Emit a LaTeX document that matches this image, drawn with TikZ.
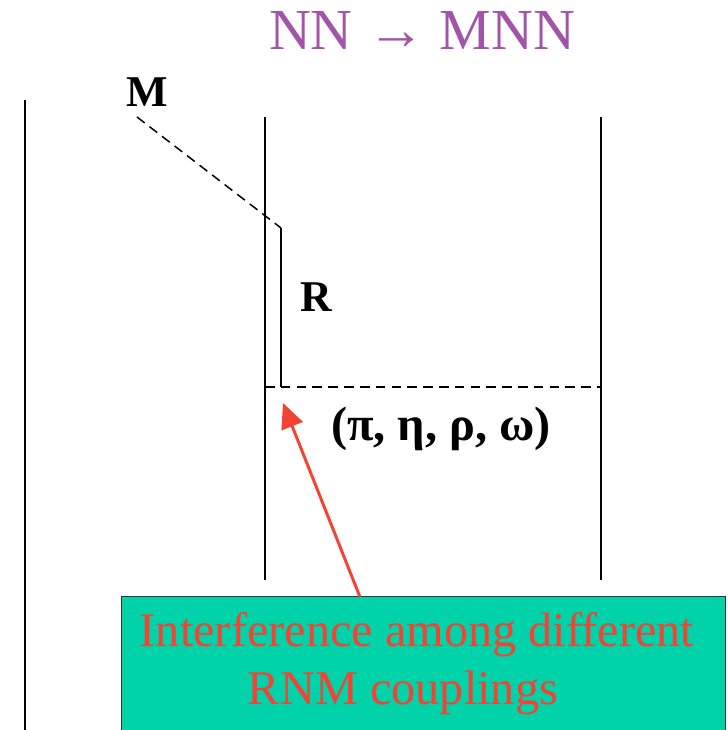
\documentclass[tikz,border=0pt]{standalone}
\usepackage{fontspec}
\setmainfont{Liberation Serif}
\usetikzlibrary{arrows.meta,positioning}
\definecolor{titlepurple}{RGB}{162,84,168}
\definecolor{boxgreen}{RGB}{0,210,170}
\definecolor{notered}{RGB}{242,68,52}

\begin{document}
\begin{tikzpicture}[x=0.02cm,y=-0.02cm,line width=0.85pt,
  every node/.style={inner sep=0pt},
  lbl/.style={font=\fontsize{25}{30}\selectfont\bfseries},
  exch/.style={dash pattern=on 5.5pt off 3.5pt}]
\useasboundingbox (0,0) rectangle (727,730);
% title
\node[text=titlepurple,font=\fontsize{33}{40}\selectfont] (title) at (422,31) {NN → MNN};
% nucleon lines
\coordinate (l1) at (25,100);  \coordinate (l2) at (25,735);
\coordinate (m1) at (265,117); \coordinate (m2) at (265,580);
\coordinate (r1) at (601,117); \coordinate (r2) at (601,580);
\draw (l1) -- (l2);
\draw (m1) -- (m2);
\draw (r1) -- (r2);
% meson emission via resonance
\node[lbl] (M) at (147,92) {M};
\coordinate (mstart) at (137,117);
\coordinate (rtop) at (281,228);
\coordinate (rbot) at (281,387);
\draw[exch] (mstart) -- (rtop);
\draw (rtop) -- (rbot);
\node[lbl] (R) at (316,297) {R};
% meson exchange
\coordinate (ex1) at (265,387); \coordinate (ex2) at (601,387);
\draw[exch] (ex1) -- (ex2);
\node[lbl,font=\fontsize{27.5}{32}\selectfont\bfseries] (mesons) at (441,429) {(π, η, ρ, ω)};
% comment box
\node[draw=black!80,fill=boxgreen,anchor=north west,minimum width=12.08cm,
  minimum height=3cm,line width=0.6pt] (box) at (121,596) {};
\node[text=notered,font=\fontsize{27.5}{33}\selectfont,align=center] (note) at (417,664)
  {Interference among different\\RNM couplings\hspace*{0.56cm}};
\coordinate (tail) at (360,597);
\coordinate (tip) at (283,403);
\draw[notered,line width=1.7pt,-{Triangle[length=0.5cm,width=0.45cm]}] (tail) -- (tip);
\end{tikzpicture}
\end{document}
